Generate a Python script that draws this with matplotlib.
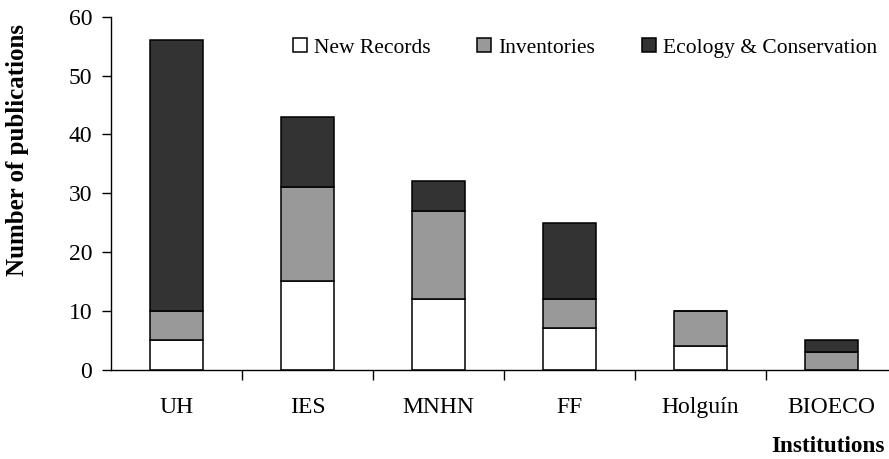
import matplotlib
matplotlib.use("Agg")
import matplotlib.pyplot as plt
import numpy as np

institutions = ["UH", "IES", "MNHN", "FF", "Holguín", "BIOECO"]
new_records = [5, 15, 12, 7, 4, 0]
inventories = [5, 16, 15, 5, 6, 3]
ecology = [46, 12, 5, 13, 0, 2]

series = [
    ("New Records", new_records, "#ffffff"),
    ("Inventories", inventories, "#999999"),
    ("Ecology & Conservation", ecology, "#333333"),
]

plt.rcParams["font.family"] = ["Liberation Serif", "DejaVu Serif"]
plt.rcParams["font.size"] = 17

fig = plt.figure(figsize=(8.89, 4.59), dpi=100)
ax = fig.add_axes([111 / 889, 1 - 369.5 / 459, 1 - 111 / 889, (369.5 - 16.7) / 459])

x = np.arange(len(institutions))
bottom = np.zeros(len(institutions))
for name, vals, color in series:
    vals = np.array(vals, dtype=float)
    ax.bar(x, vals, width=0.405, bottom=bottom, color=color,
           edgecolor="black", linewidth=1.1, label=name)
    bottom += vals

ax.set_ylim(0, 60)
ax.set_yticks(range(0, 61, 10))
ax.set_xlim(-0.5, (889 - 111) / 131 - 0.5)

# ticks between categories, labels at centres
ax.set_xticks(x[:-1] + 0.5)
ax.set_xticklabels([])
ax.set_xticks(x, minor=True)
ax.set_xticklabels(institutions, minor=True)
ax.tick_params(axis="x", which="major", direction="out", length=7, width=1)
ax.tick_params(axis="x", which="minor", length=0, pad=20, labelsize=17)
ax.tick_params(axis="y", direction="out", length=6.5, width=1, pad=7, labelsize=17)

for side in ("top", "right"):
    ax.spines[side].set_visible(False)
ax.spines["left"].set_linewidth(1)
ax.spines["bottom"].set_linewidth(1)

fig.text(18 / 889, 1 - 150 / 459, "Number of publications", rotation=90,
         ha="center", va="center", fontweight="bold", fontsize=18)
fig.text(885 / 889, 1 - 447 / 459, "Institutions", ha="right", va="center",
         fontweight="bold", fontsize=16.7)

fig.legend(loc="center right", bbox_to_anchor=(877 / 889, 1 - 48 / 459), ncol=3,
           frameon=False, handlelength=0.65, handleheight=0.65, handletextpad=0.33,
           columnspacing=2.17, fontsize=15.5, borderpad=0, borderaxespad=0)

fig.savefig("out.png", dpi=100)
